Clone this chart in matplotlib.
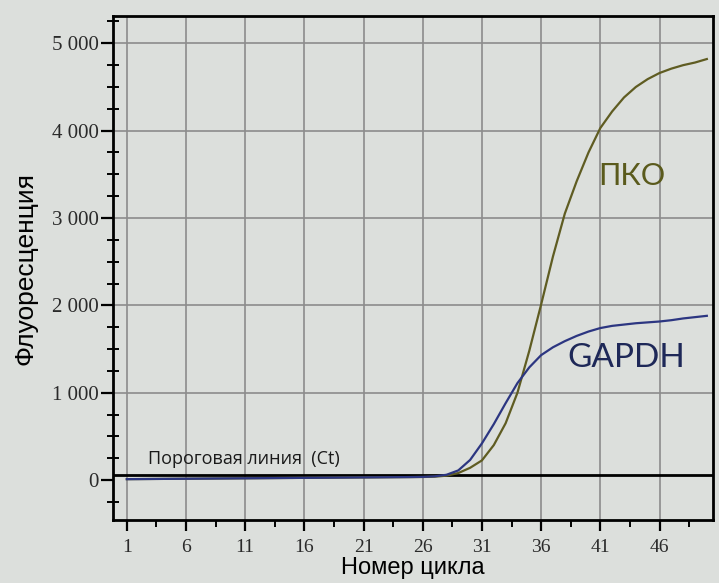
import matplotlib
matplotlib.use('Agg')
import matplotlib.pyplot as plt
from matplotlib.ticker import MultipleLocator, FixedLocator, FuncFormatter

cycles = list(range(1, 51))

# fluorescence per cycle
pko = [10, 11, 12, 13, 14, 15, 16, 17, 18, 19,
       20, 21, 22, 23, 24, 25, 26, 27, 28, 29,
       30, 31, 32, 33, 34, 35, 38, 50, 80, 140,
       225, 400, 650, 1000, 1480, 2010, 2560, 3050, 3420, 3750,
       4030, 4220, 4380, 4500, 4590, 4660, 4710, 4750, 4780, 4820]
gapdh = [10, 11, 12, 13, 14, 15, 16, 17, 18, 19,
         20, 21, 22, 23, 24, 25, 26, 27, 28, 29,
         30, 31, 32, 33, 34, 36, 42, 60, 110, 230,
         420, 640, 880, 1110, 1290, 1430, 1520, 1590, 1650, 1700,
         1740, 1765, 1780, 1795, 1805, 1815, 1830, 1850, 1865, 1880]
threshold = 60

x_ticks = [1, 6, 11, 16, 21, 26, 31, 36, 41, 46]
y_ticks = [0, 1000, 2000, 3000, 4000, 5000]

bg = '#dcdfdc'
olive = '#5f5c22'
navy = '#2c3681'

fig = plt.figure(figsize=(7.19, 5.83), dpi=100, facecolor=bg)
ax = fig.add_axes([0.157, 0.108, 0.834, 0.864], facecolor=bg)

ax.set_xlim(-0.18, 50.48)
ax.set_ylim(-458, 5309)

# grid at labelled cycles and every 1000
for x in x_ticks:
    ax.axvline(x, color='#8c8c8c', lw=1.2, zorder=1)
for y in y_ticks[1:]:
    ax.axhline(y, color='#8c8c8c', lw=1.2, zorder=1)

ax.axhline(threshold, color='black', lw=2, zorder=3)
ax.annotate('Пороговая линия  (Ct)', xy=(2.8, threshold), xytext=(0, 5),
            textcoords='offset points', fontsize=13, family='Open Sans',
            color='#1a1a1a', va='bottom', ha='left')

ax.plot(cycles, pko, color=olive, lw=1.6, zorder=4)
ax.plot(cycles, gapdh, color=navy, lw=1.6, zorder=4)

ax.text(40.8, 3380, 'ПКО', fontsize=22, family='Lato', color='#5a5a1c')
ax.text(38.2, 1290, 'GAPDH', fontsize=24, family='Lato', color='#1e2858')

ax.xaxis.set_major_locator(FixedLocator(x_ticks))
ax.xaxis.set_minor_locator(FixedLocator([x + 2.5 for x in x_ticks]))
ax.yaxis.set_major_locator(FixedLocator(y_ticks))
ax.yaxis.set_minor_locator(MultipleLocator(250))
ax.yaxis.set_major_formatter(FuncFormatter(lambda v, p: f'{int(v):,}'.replace(',', ' ')))

for s in ax.spines.values():
    s.set_linewidth(2)
    s.set_color('black')

ax.tick_params(axis='x', which='major', direction='out', length=8, width=1.6,
               pad=6, labelsize=14, labelcolor='#2a2a2a')
ax.tick_params(axis='x', which='minor', direction='out', length=5, width=1.4)
ax.tick_params(axis='y', which='major', direction='out', length=9, width=1.6,
               pad=1, labelsize=15, labelcolor='#2a2a2a')
ax.tick_params(axis='y', which='minor', direction='inout', length=8, width=1.4)
for lab in ax.get_xticklabels() + ax.get_yticklabels():
    lab.set_family('Liberation Serif')

ax.set_xlabel('Номер цикла', fontsize=17, family='Liberation Sans')
ax.xaxis.set_label_coords(0.5, -0.074)
ax.set_ylabel('Флуоресценция', fontsize=19, family='Liberation Sans')
ax.yaxis.set_label_coords(-0.125, 0.5)

plt.savefig('out.png', dpi=100, facecolor=bg)
plt.close()
